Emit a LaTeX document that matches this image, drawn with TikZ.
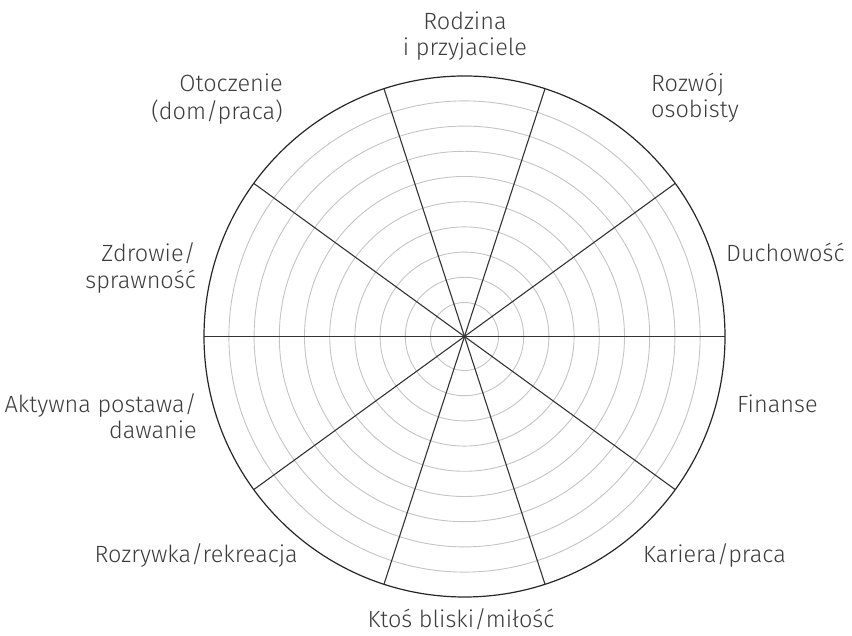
\documentclass[tikz,border=0pt]{standalone}
\usepackage{fontspec}
\setmainfont{Fira Sans}[UprightFont=* Light]
\usetikzlibrary{calc}
\definecolor{txt}{HTML}{3C3C3C}
\definecolor{spoke}{HTML}{333333}
\definecolor{ring}{HTML}{C4C4C4}
\tikzset{
  lbl/.style={inner sep=0pt, text=txt, font=\fontsize{23.5}{26}\selectfont},
  ringline/.style={draw=ring, line width=0.9pt},
  spokeline/.style={draw=spoke, line width=1.1pt},
  rimline/.style={draw=black!85, line width=1.2pt}
}
\begin{document}
\begin{tikzpicture}[x=1pt,y=1pt]
\useasboundingbox (0,0) rectangle (852,636);
\coordinate (c) at (464.5,299.5);
\foreach \k in {0,...,8}{
  \draw[ringline] (c) circle[radius={34+25.2*\k}];
}
\foreach \a [count=\i] in {0,36,...,324}{
  \coordinate (s\i) at ($(c)+(\a:260.5)$);
  \draw[spokeline] (c) -- (s\i);
}
\draw[rimline] (c) circle[radius=260.5];
% labels
\node[lbl, anchor=base] (rodz) at (465,606) {\begin{tabular}[t]{@{}c@{}}Rodzina\\ i przyjaciele\end{tabular}};
\node[lbl, anchor=base west] (rozw) at (651,544) {\begin{tabular}[t]{@{}l@{}}Rozwój\\ osobisty\end{tabular}};
\node[lbl, anchor=base west] (duch) at (726,374) {Duchowość};
\node[lbl, anchor=base west] (fin) at (737,223) {Finanse};
\node[lbl, anchor=base west] (kar) at (643,73) {Kariera/praca};
\node[lbl, anchor=base] (kto) at (461,8) {Ktoś bliski/miłość};
\node[lbl, anchor=base east] (rozr) at (298,73) {Rozrywka/rekreacja};
\node[lbl, anchor=base east] (akt) at (197,223) {\begin{tabular}[t]{@{}r@{}}Aktywna postawa/\\ dawanie\end{tabular}};
\node[lbl, anchor=base east] (zdr) at (196,374) {\begin{tabular}[t]{@{}r@{}}Zdrowie/\\ sprawność\end{tabular}};
\node[lbl, anchor=base east] (oto) at (283,544) {\begin{tabular}[t]{@{}r@{}}Otoczenie\\ (dom/praca)\end{tabular}};
\end{tikzpicture}
\end{document}
